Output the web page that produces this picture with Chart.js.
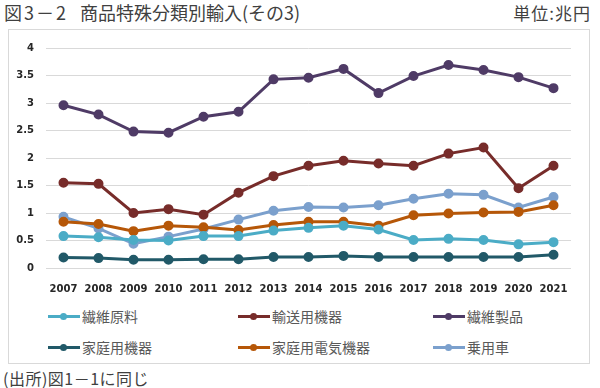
<!DOCTYPE html>
<html lang="ja">
<head>
<meta charset="UTF-8">
<title>商品特殊分類別輸入(その3)</title>
<script src="https://cdn.jsdelivr.net/npm/chart.js"></script>
<style>
  body { margin: 0; width: 600px; height: 388px; background: #fff; position: relative; overflow: hidden;
         font-family: "Noto Sans CJK JP", "Noto Sans", sans-serif; color: #404040; }
  .tit { position: absolute; top: 2px; font-size: 18px; line-height: 20px; }
  #tit1 { left: 4px; letter-spacing: 2px; }
  #tit2 { left: 80px; }
  #unidade { position: absolute; right: 9px; top: 3px; font-size: 17px; line-height: 20px; letter-spacing: 1px; }
  #caixa { position: absolute; left: 8px; top: 29px; width: 580px; height: 333px; border: 1px solid #d9d9d9; }
  #grafico { position: absolute; left: 0; top: 0; width: 580px; height: 272px; }
  .item { position: absolute; font-size: 14px; color: #595959; line-height: 16px; display: flex; align-items: center; }
  .marca { position: relative; width: 32px; height: 16px; margin-right: 2px; }
  .marca .linha { position: absolute; left: 0; right: 0; top: 6.5px; height: 3px; }
  .marca .ponto { position: absolute; left: 12px; top: 4.5px; width: 7px; height: 7px; border-radius: 50%; }
  #fonte { position: absolute; left: 3px; top: 370px; font-size: 16px; line-height: 16px; letter-spacing: 0.5px; }
</style>
</head>
<body>
<div class="tit" id="tit1">図3－2</div>
<div class="tit" id="tit2">商品特殊分類別輸入(その3)</div>
<div id="unidade">単位:兆円</div>
<div id="caixa">
  <div id="grafico"><canvas id="myChart"></canvas></div>
  <div id="legenda"></div>
</div>
<div id="fonte">(出所)図1－1に同じ</div>

<script>
// dados (兆円)
const anos = ['2007','2008','2009','2010','2011','2012','2013','2014','2015','2016','2017','2018','2019','2020','2021'];
const yTicks = [0, 0.5, 1, 1.5, 2, 2.5, 3, 3.5, 4];

const seniGenryo   = [0.58, 0.56, 0.51, 0.50, 0.58, 0.58, 0.68, 0.73, 0.77, 0.70, 0.51, 0.53, 0.51, 0.43, 0.47];
const yusoKiki     = [1.55, 1.53, 1.00, 1.07, 0.97, 1.37, 1.67, 1.86, 1.95, 1.90, 1.86, 2.08, 2.19, 1.45, 1.86];
const seniSeihin   = [2.96, 2.79, 2.48, 2.46, 2.75, 2.84, 3.43, 3.46, 3.62, 3.18, 3.49, 3.69, 3.60, 3.47, 3.27];
const kateiKiki    = [0.19, 0.18, 0.15, 0.15, 0.16, 0.16, 0.20, 0.20, 0.22, 0.20, 0.20, 0.20, 0.20, 0.20, 0.24];
const kateiDenki   = [0.84, 0.80, 0.67, 0.77, 0.74, 0.69, 0.78, 0.84, 0.84, 0.77, 0.96, 0.99, 1.01, 1.02, 1.14];
const jyoyosha     = [0.93, 0.72, 0.44, 0.57, 0.71, 0.88, 1.04, 1.11, 1.10, 1.14, 1.26, 1.35, 1.33, 1.10, 1.29];

const nomes = ['繊維原料', '輸送用機器', '繊維製品', '家庭用機器', '家庭用電気機器', '乗用車'];
const cores = ['#4bacc6', '#772c2a', '#4f3b66', '#215968', '#b65708', '#7ba0cd'];
const series = [seniGenryo, yusoKiki, seniSeihin, kateiKiki, kateiDenki, jyoyosha];

let datasets = [];
for (let i = 0; i < series.length; i++) {
    datasets.push({
        label: nomes[i],
        data: series[i],
        borderColor: cores[i],
        backgroundColor: cores[i],
        pointBackgroundColor: cores[i],
        pointBorderColor: cores[i],
        borderWidth: 3,
        pointRadius: 3.5,
        tension: 0
    });
}

const fonteEixo = { family: 'DejaVu Sans', size: 10, weight: 'bold' };

new Chart(document.getElementById('myChart'), {
    type: 'line',
    data: { labels: anos, datasets: datasets },
    options: {
        responsive: true,
        maintainAspectRatio: false,
        animation: false,
        layout: { padding: { top: 12, right: 18, left: 0, bottom: 0 } },
        plugins: { legend: { display: false }, tooltip: { enabled: false } },
        scales: {
            x: {
                offset: true,
                grid: { display: false, drawTicks: false },
                border: { display: false },
                ticks: { color: '#262626', font: fonteEixo, padding: 15, maxRotation: 0, autoSkip: false },
                afterFit: s => { s.height = 34; }
            },
            y: {
                min: 0, max: 4,
                afterBuildTicks: s => { s.ticks = yTicks.map(v => ({ value: v })); },
                grid: { color: '#d9d9d9', lineWidth: 1, drawTicks: false },
                border: { display: false },
                ticks: { color: '#262626', font: fonteEixo, padding: 12, callback: v => String(v) },
                afterFit: s => { s.width = 37; }
            }
        }
    }
});

// legenda em HTML (linha + ponto)
const posX = [39, 229, 424];
const posY = [278, 309];
let html = '';
for (let i = 0; i < nomes.length; i++) {
    let col = i % 3, lin = Math.floor(i / 3);
    html += '<div class="item" style="left:' + posX[col] + 'px;top:' + posY[lin] + 'px">' +
            '<span class="marca"><span class="linha" style="background:' + cores[i] + '"></span>' +
            '<span class="ponto" style="background:' + cores[i] + '"></span></span>' + nomes[i] + '</div>';
}
document.getElementById('legenda').innerHTML = html;
</script>
</body>
</html>
